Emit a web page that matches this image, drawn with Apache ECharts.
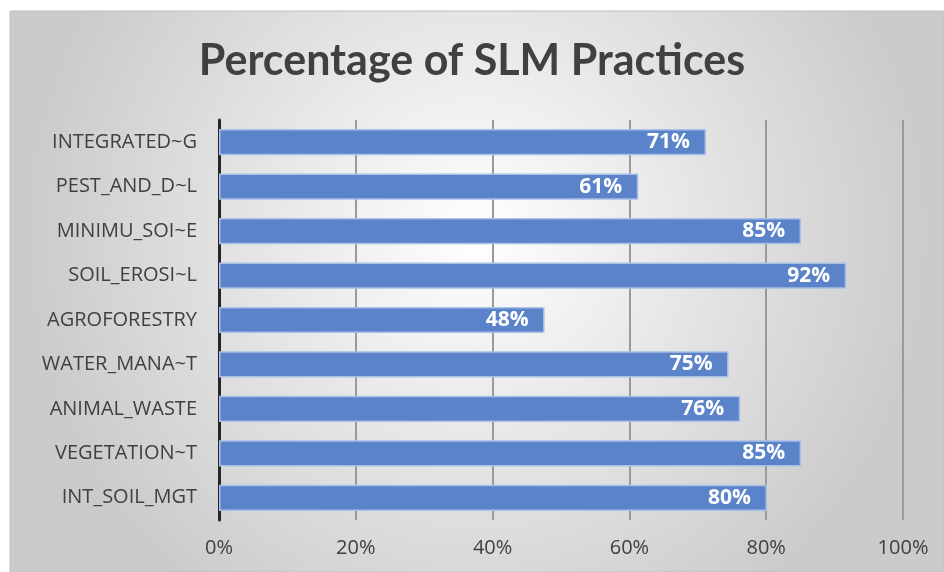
<!DOCTYPE html>
<html><head><meta charset="utf-8">
<script src="https://cdn.jsdelivr.net/npm/echarts@6/dist/echarts.min.js"></script>
<style>html,body{margin:0;padding:0;background:#fff}#c{width:944px;height:572px}</style>
</head><body><div id="c"></div>
<script>
const categories = ["INT_SOIL_MGT","VEGETATION~T","ANIMAL_WASTE","WATER_MANA~T","AGROFORESTRY","SOIL_EROSI~L","MINIMU_SOI~E","PEST_AND_D~L","INTEGRATED~G"];
const values = [80.1, 85.1, 76.2, 74.5, 47.6, 91.7, 85.1, 61.3, 71.2];
const tickValues = [0, 20, 40, 60, 80, 100];
const titleText = "Percentage of SLM Practices";

const chart = echarts.init(document.getElementById('c'), null, {renderer:'canvas'});
chart.setOption({
  animation:false,
  graphic:[{
    type:'rect', z:-10, silent:true,
    shape:{x:10,y:11,width:934,height:561},
    style:{
      fill:new echarts.graphic.RadialGradient(0.5,0.4,0.8,[{offset:0,color:'#ffffff'},{offset:1,color:'#cbcbcb'}]),
      stroke:'#bfbfbf', lineWidth:1
    }
  }],
  title:{text:titleText,left:'center',top:35,
    textStyle:{fontFamily:'Lato',fontWeight:'bold',fontSize:43,color:'#404040'}},
  grid:{left:219,right:41,top:120,bottom:52,containLabel:false},
  xAxis:{type:'value',min:0,max:100,interval:20,
    axisLabel:{formatter:v=>v+'%',fontFamily:'Open Sans',fontSize:20,color:'#404040',margin:18},
    axisLine:{show:false},axisTick:{show:false},
    splitLine:{lineStyle:{color:'#9a9a9a',width:2}}},
  yAxis:{type:'category',data:categories,
    axisLine:{lineStyle:{color:'#262626',width:3}},axisTick:{show:false},
    axisLabel:{fontFamily:'Open Sans',fontSize:20,color:'#404040',margin:22}},
  series:[{type:'bar',data:values,barCategoryGap:'41%',
    itemStyle:{color:'#5a83c9',borderColor:'#a8bfe6',borderWidth:1.5},
    label:{show:true,position:'insideRight',offset:[-11,0],formatter:p=>Math.round(p.value)+'%',
      fontFamily:'Open Sans',fontWeight:'bold',fontSize:21,color:'#ffffff'}}]
});
</script></body></html>
